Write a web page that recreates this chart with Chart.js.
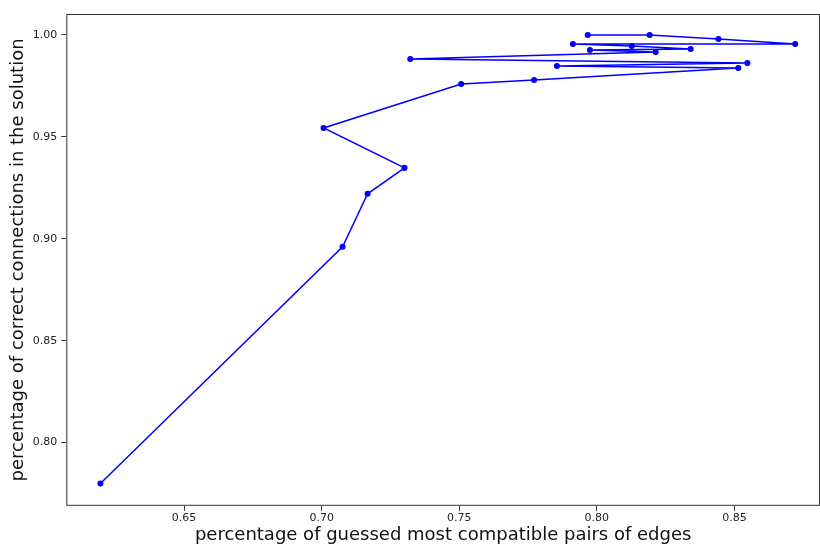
<!DOCTYPE html>
<html>
<head>
<meta charset="utf-8">
<script src="https://cdn.jsdelivr.net/npm/chart.js@4/dist/chart.umd.min.js"></script>
<style>
  body { margin: 0; background: #fff; overflow: hidden; }
  canvas { display: block; }
</style>
</head>
<body>
<canvas id="chart" width="820" height="545"></canvas>
<script>
// values, in drawing order
const guessedPairs = [0.6196, 0.7076, 0.7167, 0.7301, 0.7007, 0.7507, 0.7772, 0.8514, 0.7855, 0.8547,
                      0.7322, 0.8214, 0.7975, 0.8341, 0.8127, 0.7913, 0.8721, 0.8442, 0.8192, 0.7967];
const correctConnections = [0.7799, 0.8961, 0.9221, 0.9348, 0.9544, 0.9759, 0.9779, 0.9838, 0.9848, 0.9862,
                            0.9882, 0.9916, 0.9926, 0.9931, 0.9946, 0.9956, 0.9956, 0.9980, 1.0000, 1.0000];
const xTicks = [0.65, 0.70, 0.75, 0.80, 0.85];
const yTicks = [0.80, 0.85, 0.90, 0.95, 1.00];

const points = guessedPairs.map((x, i) => ({ x: x, y: correctConnections[i] }));

// draw the box round the plot like matplotlib spines
const frame = {
  id: "frame",
  afterDraw(chart) {
    const a = chart.chartArea;
    const ctx = chart.ctx;
    ctx.save();
    ctx.strokeStyle = "#333";
    ctx.lineWidth = 1;
    ctx.strokeRect(a.left + 0.5, a.top + 0.5, a.right - a.left - 1, a.bottom - a.top - 1);
    ctx.restore();
  }
};

Chart.defaults.font.family = "'DejaVu Sans', sans-serif";
Chart.defaults.color = "#222";

new Chart(document.getElementById("chart"), {
  type: "line",
  data: {
    datasets: [{
      data: points,
      borderColor: "#0000ff",
      backgroundColor: "#0000ff",
      borderWidth: 1.5,
      pointRadius: 2.3,
      pointHoverRadius: 2.3,
      tension: 0,
      fill: false
    }]
  },
  options: {
    responsive: false,
    animation: false,
    layout: { autoPadding: false, padding: { top: 14, right: -2, left: 8, bottom: 1 } },
    plugins: { legend: { display: false }, tooltip: { enabled: false } },
    scales: {
      x: {
        type: "linear",
        min: 0.6072,
        max: 0.8811,
        afterBuildTicks: axis => { axis.ticks = xTicks.map(v => ({ value: v })); },
        afterFit: axis => { axis.paddingLeft = 0; axis.paddingRight = 0; },
        ticks: { font: { size: 11 }, padding: 1, callback: v => v.toFixed(2) },
        grid: { drawOnChartArea: false, tickLength: 5, color: "#333" },
        border: { display: false },
        title: { display: true, text: "percentage of guessed most compatible pairs of edges",
                 font: { size: 18, lineHeight: 1.0 }, color: "#111", padding: 0 }
      },
      y: {
        type: "linear",
        min: 0.769,
        max: 1.0103,
        afterBuildTicks: axis => { axis.ticks = yTicks.map(v => ({ value: v })); },
        ticks: { font: { size: 11 }, padding: 4, callback: v => v.toFixed(2) },
        grid: { drawOnChartArea: false, tickLength: 5, color: "#333" },
        border: { display: false },
        title: { display: true, text: "percentage of correct connections in the solution",
                 font: { size: 18, lineHeight: 1.1 }, color: "#111", padding: { top: 0, bottom: 1 } }
      }
    }
  },
  plugins: [frame]
});
</script>
</body>
</html>
